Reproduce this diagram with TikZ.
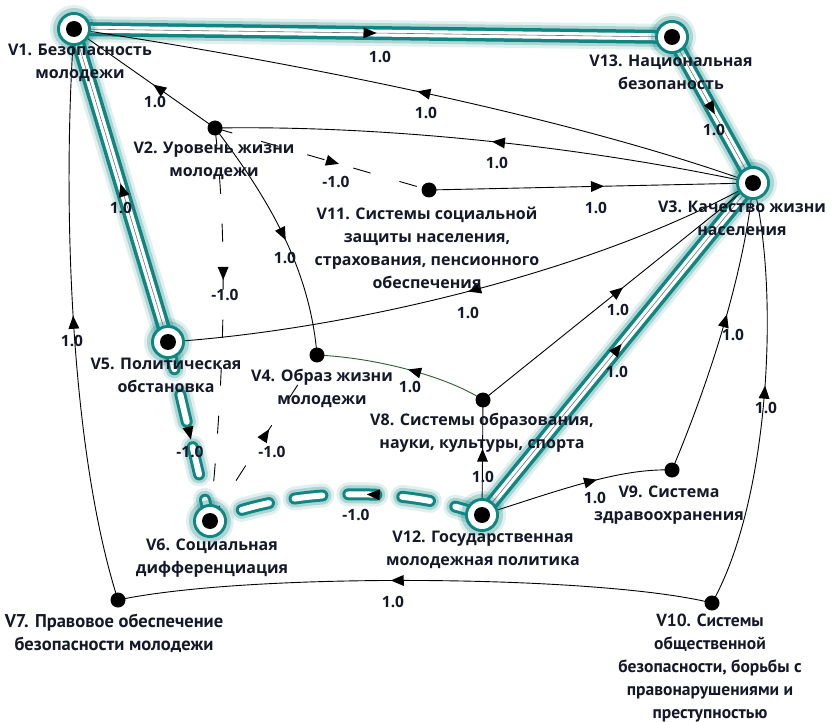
\documentclass[tikz,border=0pt]{standalone}
\usepackage{fontspec}
\setmainfont{Open Sans}
\newfontfamily\condfont{PT Sans}
\usetikzlibrary{decorations.markings}

\definecolor{hlteal}{RGB}{16,134,130}
\definecolor{ink}{RGB}{20,24,40}
\definecolor{edgegreen}{RGB}{45,95,50}

\pgfdeclarelayer{edges}
\pgfsetlayers{edges,main}

\tikzset{
  x=1pt, y=-1pt,
  vlabel/.style={text=ink, font=\bfseries\fontsize{16}{23}\selectfont, align=center, inner sep=0pt},
  wlabel/.style={text=ink, font=\condfont\bfseries\fontsize{17.5}{23}\selectfont, align=center, inner sep=0pt},
  wt/.style={text=ink, font=\bfseries\fontsize{15.5}{17}\selectfont, inner sep=0pt},
  plainv/.style={circle, fill=black, minimum size=15pt, inner sep=0pt},
  hubv/.style={circle, inner sep=0pt, minimum size=34pt, fill=hlteal, draw=none,
     preaction={draw=hlteal, draw opacity=.12, line width=14pt},
     preaction={draw=hlteal, draw opacity=.25, line width=8pt},
     path picture={
       \fill[white] (path picture bounding box.center) circle (14pt);
       \fill[black] (path picture bounding box.center) circle (8pt);}},
  thinedge/.style={draw=black, line width=.9pt},
  dashedge/.style={thinedge, dash pattern=on 18pt off 30pt},
  midtip/.style={postaction={decorate}, decoration={markings, mark=at position #1 with
     {\fill[black] (-6.5pt,-5.5pt) -- (6.5pt,0pt) -- (-6.5pt,5.5pt) -- cycle;}}},
}

% highlighted solid link: soft teal halo, teal band, white core, thin centre line
\newcommand\glowsolid[2]{%
  \draw[hlteal, opacity=.12, line width=26pt] #1;
  \draw[hlteal, opacity=.25, line width=20pt] #1;
  \draw[hlteal, line width=14pt] #1;
  \draw[white, line width=7pt] #1;
  \draw[black!55, line width=.6pt, midtip=#2] #1;}

% highlighted dashed link: rounded teal dashes with white cores
\newcommand\glowdashed[2]{%
  \draw[hlteal, opacity=.12, line width=24pt, line cap=round, dash pattern=on 28pt off 26pt] #1;
  \draw[hlteal, opacity=.25, line width=18pt, line cap=round, dash pattern=on 28pt off 26pt] #1;
  \draw[hlteal, line width=12pt, line cap=round, dash pattern=on 28pt off 26pt] #1;
  \draw[white, line width=6pt, line cap=round, dash pattern=on 28pt off 26pt] #1;
  \path[midtip=#2] #1;}

\begin{document}
\begin{tikzpicture}
\useasboundingbox (0,0) rectangle (833,722);

% vertices
\node[hubv]   (V1)  at (74,29)   {};
\node[hubv]   (V13) at (672,37)  {};
\node[hubv]   (V3)  at (753,183) {};
\node[plainv] (V2)  at (215,128) {};
\node[plainv] (V11) at (429,190) {};
\node[hubv]   (V5)  at (168,342) {};
\node[plainv] (V4)  at (317,355) {};
\node[plainv] (V8)  at (483,400) {};
\node[plainv] (V9)  at (672,470) {};
\node[hubv]   (V12) at (482,515) {};
\node[hubv]   (V6)  at (210,521) {};
\node[plainv] (V7)  at (118,600) {};
\node[plainv] (V10) at (712,603) {};

\begin{pgfonlayer}{edges}
\fill[white] (0,0) rectangle (833,722);
% highlighted path
\glowsolid{(V1.center) -- (V13.center)}{0.495}
\glowsolid{(V13.center) -- (V3.center)}{0.49}
\glowsolid{(V5.center) -- (V1.center)}{0.486}
\glowsolid{(V12.center) -- (V3.center)}{0.5}
\glowdashed{(V12.center) .. controls (400,485) and (290,488) .. (V6.center)}{0.4}
\glowdashed{(V5.center) -- (V6.center)}{0.51}

% ordinary links
\draw[thinedge, midtip=0.49] (V3.center) .. controls (550,110) and (250,55) .. (V1.center);
\draw[thinedge, midtip=0.476] (V3.center) .. controls (600,150) and (400,125) .. (V2.center);
\draw[thinedge, midtip=0.52] (V11.center) -- (V3.center);
\draw[thinedge, midtip=0.40] (V2.center) -- (V1.center);
\draw[dashedge, midtip=0.55] (V2.center) -- (V11.center);
\draw[thinedge, midtip=0.5] (V2.center) .. controls (270,200) and (310,270) .. (V4.center);
\draw[dashedge, midtip=0.37] (V2.center) .. controls (230,260) and (222,400) .. (V6.center);
\draw[dashedge, midtip=0.52] (V6.center) -- (V4.center);
\draw[thinedge, midtip=0.49] (V3.center) .. controls (600,270) and (350,330) .. (V5.center);
\draw[thinedge, draw=edgegreen, midtip=0.43] (V8.center) .. controls (450,378) and (380,358) .. (V4.center);
\draw[thinedge, midtip=0.5] (V8.center) -- (V3.center);
\draw[thinedge, midtip=0.52] (V12.center) -- (V8.center);
\draw[thinedge, midtip=0.58] (V12.center) .. controls (560,490) and (620,468) .. (V9.center);
\draw[thinedge, midtip=0.53] (V9.center) .. controls (710,380) and (745,270) .. (V3.center);
\draw[thinedge, midtip=0.51] (V10.center) .. controls (770,500) and (780,290) .. (V3.center);
\draw[thinedge, midtip=0.53] (V10.center) .. controls (600,575) and (250,572) .. (V7.center);
\draw[thinedge, midtip=0.49] (V7.center) .. controls (70,450) and (62,200) .. (V1.center);
\end{pgfonlayer}

% weights
\node[wt] (w1)  at (380,57)  {1.0};
\node[wt] (w2)  at (714,130) {1.0};
\node[wt] (w3)  at (121,208) {1.0};
\node[wt] (w4)  at (617,372) {1.0};
\node[wt] (w5)  at (356,515) {-1.0};
\node[wt] (w6)  at (190,452) {-1.0};
\node[wt] (w7)  at (426,113) {1.0};
\node[wt] (w8)  at (497,163) {1.0};
\node[wt] (w9)  at (596,208) {1.0};
\node[wt] (w10) at (155,102) {1.0};
\node[wt] (w11) at (336,182) {-1.0};
\node[wt] (w12) at (285,258) {1.0};
\node[wt] (w13) at (225,295) {-1.0};
\node[wt] (w14) at (272,452) {-1.0};
\node[wt] (w15) at (468,313) {1.0};
\node[wt] (w16) at (410,387) {1.0};
\node[wt] (w17) at (618,310) {1.0};
\node[wt] (w18) at (483,477) {1.0};
\node[wt] (w19) at (595,498) {1.0};
\node[wt] (w20) at (733,335) {1.0};
\node[wt] (w21) at (766,408) {1.0};
\node[wt] (w22) at (393,602) {1.0};
\node[wt] (w23) at (72,341)  {1.0};

% vertex captions
\node[vlabel] (V1t)  at (80,63)    {V1. Безопасность\\молодежи};
\node[vlabel] (V13t) at (671,72.5) {V13. Национальная\\безопаность};
\node[vlabel] (V2t)  at (214,161)  {V2. Уровень жизни\\молодежи};
\node[vlabel] (V11t) at (427,247.5){V11. Системы социальной\\защиты населения,\\страхования, пенсионного\\обеспечения};
\node[vlabel] (V3t)  at (742,218)  {V3. Качество жизни\\населения};
\node[vlabel] (V5t)  at (166,375)  {V5. Политическая\\обстановка};
\node[vlabel] (V4t)  at (322,388)  {V4. Образ жизни\\молодежи};
\node[vlabel] (V8t)  at (482,433)  {V8. Системы образования,\\науки, культуры, спорта};
\node[vlabel] (V9t)  at (669,505)  {V9. Система\\здравоохранения};
\node[vlabel] (V12t) at (483,550)  {V12. Государственная\\молодежная политика};
\node[vlabel] (V6t)  at (212,558.5){V6. Социальная\\дифференциация};
\node[wlabel, font=\condfont\bfseries\fontsize{18.5}{23}\selectfont] (V7t) at (114,633) {V7. Правовое обеспечение\\безопасности молодежи};
\node[wlabel] (V10t) at (710,668)  {V10. Системы\\общественной\\безопасности, борьбы с\\правонарушениями и\\преступностью};
\end{tikzpicture}
\end{document}
